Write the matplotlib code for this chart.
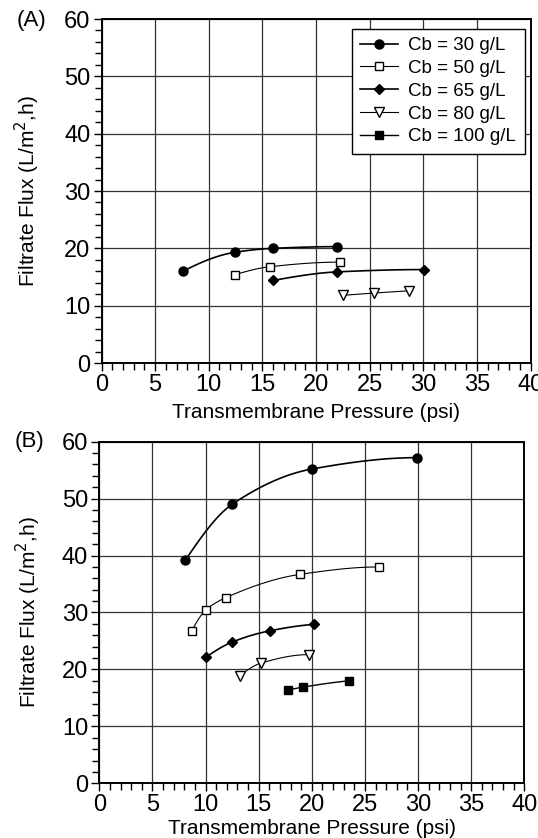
import numpy as np
import matplotlib
matplotlib.use("Agg")
import matplotlib.pyplot as plt

plt.rcParams["font.family"] = ["Liberation Sans", "DejaVu Sans"]

# panel A
a_30_x = [7.6, 12.4, 16.0, 22.0];  a_30_y = [16.0, 19.3, 20.0, 20.3]
a_50_x = [12.4, 15.7, 22.2];       a_50_y = [15.4, 16.8, 17.6]
a_65_x = [16.0, 22.0, 30.1];       a_65_y = [14.4, 15.9, 16.3]
a_80_x = [22.5, 25.4, 28.7];       a_80_y = [11.8, 12.2, 12.6]

# panel B
b_30_x = [8.1, 12.5, 20.0, 29.9];  b_30_y = [39.2, 49.0, 55.2, 57.2]
b_50_x = [8.7, 10.0, 11.9, 18.9, 26.3]; b_50_y = [26.8, 30.4, 32.6, 36.7, 38.0]
b_65_x = [10.0, 12.5, 16.1, 20.2]; b_65_y = [22.1, 24.8, 26.8, 27.9]
b_80_x = [13.2, 15.2, 19.7];       b_80_y = [18.9, 21.1, 22.6]
b_100_x = [17.8, 19.2, 23.5];      b_100_y = [16.4, 16.9, 18.0]

labels = ["Cb = 30 g/L", "Cb = 50 g/L", "Cb = 65 g/L", "Cb = 80 g/L", "Cb = 100 g/L"]
styles = [dict(marker="o", mfc="black", ms=6.5, lw=1.2),
          dict(marker="s", mfc="white", ms=6, lw=0.8),
          dict(marker="D", mfc="black", ms=5.5, lw=1.2),
          dict(marker="v", mfc="white", ms=7, lw=0.8),
          dict(marker="s", mfc="black", ms=6, lw=1.0)]


def pchip(x, y, n=80):
    # smooth monotone curve through the measured points
    x = np.asarray(x, float); y = np.asarray(y, float)
    h = np.diff(x); d = np.diff(y) / h
    m = np.zeros_like(y)
    if len(x) == 2:
        m[:] = d[0]
    else:
        for k in range(1, len(x) - 1):
            if d[k - 1] * d[k] > 0:
                w1 = 2 * h[k] + h[k - 1]; w2 = h[k] + 2 * h[k - 1]
                m[k] = (w1 + w2) / (w1 / d[k - 1] + w2 / d[k])
        m[0] = ((2 * h[0] + h[1]) * d[0] - h[0] * d[1]) / (h[0] + h[1])
        if np.sign(m[0]) != np.sign(d[0]): m[0] = 0
        m[-1] = ((2 * h[-1] + h[-2]) * d[-1] - h[-1] * d[-2]) / (h[-1] + h[-2])
        if np.sign(m[-1]) != np.sign(d[-1]): m[-1] = 0
    xs = np.linspace(x[0], x[-1], n)
    k = np.clip(np.searchsorted(x, xs) - 1, 0, len(x) - 2)
    t = (xs - x[k]) / h[k]
    h00 = 2*t**3 - 3*t**2 + 1; h10 = t**3 - 2*t**2 + t
    h01 = -2*t**3 + 3*t**2; h11 = t**3 - t**2
    ys = h00*y[k] + h10*h[k]*m[k] + h01*y[k+1] + h11*h[k]*m[k+1]
    return xs, ys


def panel(ax, series, ylab_x, xlab_y):
    handles = []
    for (x, y), st, lab in zip(series, styles, labels):
        xs, ys = pchip(x, y)
        ax.plot(xs, ys, color="black", lw=st["lw"], zorder=3)
        ax.plot(x, y, ls="none", marker=st["marker"], mfc=st["mfc"], mec="black",
                mew=1.0, ms=st["ms"], zorder=4)
        h, = ax.plot([], [], color="black", lw=st["lw"], marker=st["marker"],
                     mfc=st["mfc"], mec="black", mew=1.0, ms=st["ms"])
        handles.append(h)
    ax.set_xlim(0, 40); ax.set_ylim(0, 60)
    ax.set_xticks(np.arange(0, 41, 5)); ax.set_xticks(np.arange(0, 41, 1), minor=True)
    ax.set_yticks(np.arange(0, 61, 10)); ax.set_yticks(np.arange(0, 61, 2), minor=True)
    ax.tick_params(which="both", direction="out", width=1.0, colors="black")
    ax.tick_params(which="major", length=6, labelsize=17, pad=2)
    ax.tick_params(which="minor", length=5)
    ax.grid(True, which="major", color="#333333", lw=0.9)
    ax.set_axisbelow(True)
    for s in ax.spines.values():
        s.set_linewidth(1.4)
    ax.set_xlabel("Transmembrane Pressure (psi)", fontsize=15)
    ax.set_ylabel("Filtrate Flux (L/m$^2$,h)", fontsize=15)
    ax.yaxis.set_label_coords(ylab_x, 0.5)
    ax.xaxis.set_label_coords(0.5, xlab_y)
    ax.xaxis.label.set_va("center"); ax.yaxis.label.set_va("center")
    return handles


fig = plt.figure(figsize=(5.38, 8.38), dpi=100)
axA = fig.add_axes([0.1887, 0.5668, 0.7974, 0.4105])
axB = fig.add_axes([0.1846, 0.0653, 0.7900, 0.4076])

hA = panel(axA, [(a_30_x, a_30_y), (a_50_x, a_50_y), (a_65_x, a_65_y), (a_80_x, a_80_y)],
           -0.172, -0.145)
hA.append(axA.plot([], [], color="black", lw=styles[4]["lw"], marker="s", mfc="black",
                   mec="black", ms=styles[4]["ms"])[0])
panel(axB, [(b_30_x, b_30_y), (b_50_x, b_50_y), (b_65_x, b_65_y), (b_80_x, b_80_y),
            (b_100_x, b_100_y)], -0.168, -0.131)

fig.text(0.030, 0.975, "(A)", fontsize=16, ha="left", va="center")
fig.text(0.027, 0.473, "(B)", fontsize=16, ha="left", va="center")

leg = axA.legend(hA, labels, loc="upper right", bbox_to_anchor=(1.008, 0.999),
                 fontsize=13.5, frameon=True, fancybox=False, framealpha=1,
                 edgecolor="black", handlelength=2.0, labelspacing=0.3,
                 borderpad=0.45, handletextpad=0.55)
leg.get_frame().set_linewidth(1.0)

fig.savefig("out.png", dpi=100)
